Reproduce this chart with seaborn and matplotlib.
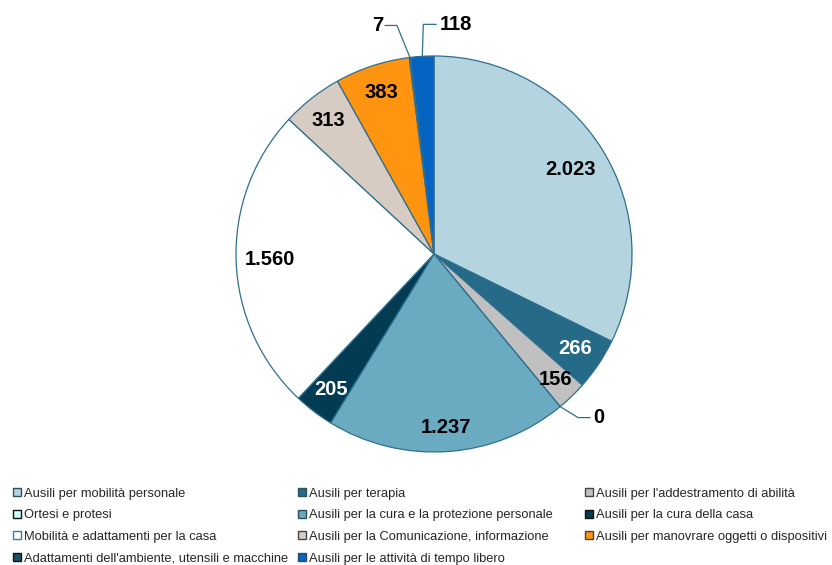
import matplotlib
matplotlib.use("Agg")
import matplotlib.pyplot as plt
import seaborn as sns
import numpy as np
from matplotlib.patches import Patch

categories = [
    "Ausili per mobilità personale",
    "Ausili per terapia",
    "Ausili per l'addestramento di abilità",
    "Ortesi e protesi",
    "Ausili per la cura e la protezione personale",
    "Ausili per la cura della casa",
    "Mobilità e adattamenti per la casa",
    "Ausili per la Comunicazione, informazione",
    "Ausili per manovrare oggetti o dispositivi",
    "Adattamenti dell'ambiente, utensili e macchine",
    "Ausili per le attività di tempo libero",
]
values = [2023, 266, 156, 0, 1237, 205, 1560, 313, 383, 7, 118]
colors = ["#B4D4DF", "#256A86", "#C0C0C0", "#CCFFFF", "#6BABC2", "#023B52",
          "#FFFFFF", "#D7CCC3", "#FF9410", "#1B5269", "#0563C1"]
legend_edges = ["#2F4F5F", "#2F4F5F", "#444444", "#111111", "#2F4F5F", "#111111",
                "#2F7FA8", "#444444", "#444444", "#111111", "#2F4F5F"]
label_colors = ["black", "white", "black", "black", "black", "white",
                "black", "black", "black", "black", "black"]

sns.set_theme(style="white")
plt.rcParams['font.family'] = ['Liberation Sans', 'DejaVu Sans']

W, H = 832, 565
fig = plt.figure(figsize=(W / 100, H / 100), dpi=100)
R_px = 198
cx, cy = 434, 254
L = 1.3
side = 2 * L * R_px
ax = fig.add_axes([(cx - side / 2) / W, (H - cy - side / 2) / H, side / W, side / H])

wedges, _ = ax.pie(values, colors=colors, startangle=90, counterclock=False,
                   wedgeprops=dict(edgecolor="#2F6F8F", linewidth=0.9))
ax.set_xlim(-L, L)
ax.set_ylim(-L, L)
ax.set_aspect('equal')
ax.axis('off')

def fmt(v):
    return f"{v:,}".replace(",", ".")

px = 1.0 / R_px
inside_r = {0: 0.81, 2: 0.88, 4: 0.88, 6: 0.83}
outside = {
    # idx: (elbow offset px (dx, dy up), horizontal run px, ha)
    3: ((18, -11), 12, 'left'),
    9: ((-13, 32), -12, 'right'),
    10: ((1, 32), 13, 'left'),
}
for i, w in enumerate(wedges):
    mid = np.deg2rad((w.theta1 + w.theta2) / 2)
    if i in outside:
        (ex, ey), run, ha = outside[i]
        x0, y0 = np.cos(mid), np.sin(mid)
        x1, y1 = x0 + ex * px, y0 + ey * px
        x2 = x1 + run * px
        ax.plot([x0, x1, x2], [y0, y1, y1], color="#2F6F8F", lw=0.9, clip_on=False)
        ax.text(x2 + (3 if ha == 'left' else -2) * px, y1, fmt(values[i]), ha=ha, va='center',
                fontsize=14.5, fontweight='bold', color=label_colors[i])
    else:
        r = inside_r.get(i, 0.86)
        ax.text(r * np.cos(mid), r * np.sin(mid), fmt(values[i]), ha='center', va='center',
                fontsize=14.5, fontweight='bold', color=label_colors[i])

handles = [Patch(facecolor=c, edgecolor=e, linewidth=1.0) for c, e in zip(colors, legend_edges)]
col_x = [13, 298, 585]
cols = [[0, 3, 6, 9], [1, 4, 7, 10], [2, 5, 8]]
for xpos, idxs in zip(col_x, cols):
    fig.legend([handles[i] for i in idxs], [categories[i] for i in idxs],
               loc='upper left', bbox_to_anchor=(xpos / W, 1 - 487.5 / H),
               frameon=False, fontsize=9.3, handlelength=0.6, handleheight=0.6,
               handletextpad=0.24, labelspacing=0.75, borderpad=0, borderaxespad=0)

fig.savefig("out.png", dpi=100)
